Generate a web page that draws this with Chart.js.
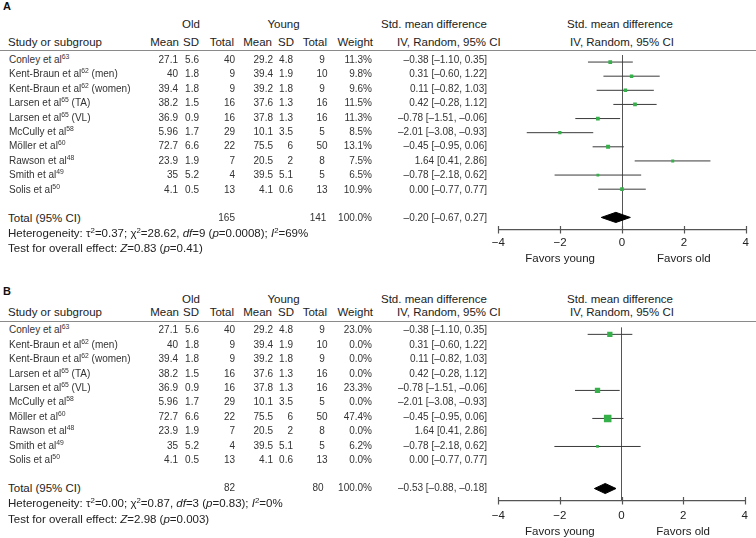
<!DOCTYPE html>
<html lang="en">
<head>
  <meta charset="UTF-8" />
  <title>Forest plot - Old vs Young</title>
  <script src="https://cdn.jsdelivr.net/npm/chart.js"></script>
  <style>
    html, body { margin: 0; padding: 0; background: #fff; }
    body { width: 756px; height: 538px; position: relative; overflow: hidden;
           font-family: 'Liberation Sans', Arial, sans-serif; color: #222; }
    .panel { position: absolute; left: 0; width: 756px; height: 268px; }
    .t { position: absolute; white-space: nowrap; line-height: 14px; height: 14px; }
    .h { font-size: 11.5px; }
    .d { font-size: 10px; color: #333; }
    .b { font-weight: bold; font-size: 11px; color: #111; }
    sup { font-size: 0.68em; line-height: 0; vertical-align: 0.55em; }
    .rule { position: absolute; left: 0; width: 756px; height: 0; border-top: 1.5px solid #8a8a8a; }
    canvas { position: absolute; left: 480px; top: 51px; }
  </style>
</head>
<body>

  <div class="panel" id="panelA" style="top:0px"><canvas id="chartA" width="276" height="218"></canvas></div>
  <div class="panel" id="panelB" style="top:270.5px"><canvas id="chartB" width="276" height="218"></canvas></div>

  <script>
    // studies (same in both panels)
    const studyNames = ['Conley et al', 'Kent-Braun et al', 'Kent-Braun et al', 'Larsen et al', 'Larsen et al',
                        'McCully et al', 'Möller et al', 'Rawson et al', 'Smith et al', 'Solis et al'];
    const studyRefs = ['63', '62', '62', '65', '65', '58', '60', '48', '49', '50'];
    const studyTags = ['', ' (men)', ' (women)', ' (TA)', ' (VL)', '', '', '', '', ''];

    const oldMean = ['27.1', '40', '39.4', '38.2', '36.9', '5.96', '72.7', '23.9', '35', '4.1'];
    const oldSD = ['5.6', '1.8', '1.8', '1.5', '0.9', '1.7', '6.6', '1.9', '5.2', '0.5'];
    const oldTotal = [40, 9, 9, 16, 16, 29, 22, 7, 4, 13];
    const youngMean = ['29.2', '39.4', '39.2', '37.6', '37.8', '10.1', '75.5', '20.5', '39.5', '4.1'];
    const youngSD = ['4.8', '1.9', '1.8', '1.3', '1.3', '3.5', '6', '2', '5.1', '0.6'];
    const youngTotal = [9, 10, 9, 16, 16, 5, 50, 8, 5, 13];

    // std. mean difference and 95% CI
    const smd = [-0.38, 0.31, 0.11, 0.42, -0.78, -2.01, -0.45, 1.64, -0.78, 0.00];
    const ciLow = [-1.10, -0.60, -0.82, -0.28, -1.51, -3.08, -0.95, 0.41, -2.18, -0.77];
    const ciHigh = [0.35, 1.22, 1.03, 1.12, -0.06, -0.93, 0.06, 2.86, 0.62, 0.77];

    // weights (%) per panel
    const weightA = [11.3, 9.8, 9.6, 11.5, 11.3, 8.5, 13.1, 7.5, 6.5, 10.9];
    const weightB = [23.0, 0, 0, 0, 23.3, 0, 47.4, 0, 6.2, 0];

    // pooled result [estimate, low, high] and totals [old, young]
    const pooledA = [-0.20, -0.67, 0.27];
    const pooledB = [-0.53, -0.88, -0.18];
    const totalsA = [165, 141];
    const totalsB = [82, 80];

    // heterogeneity [tau2, chi2, df, p, I2] and overall effect [Z, p]
    const hetA = ['0.37', '28.62', '9', '0.0008', '69'];
    const hetB = ['0.00', '0.87', '3', '0.83', '0'];
    const testA = ['0.83', '0.41'];
    const testB = ['2.98', '0.003'];

    const xTicks = [-4, -2, 0, 2, 4];

    const FONT = "'Liberation Sans', Arial, sans-serif";
    const ROW_H = 14.45;
    const TOP = 51;   // header rule / top of plot area
    const minus = v => (v < 0 ? '\u2013' : '') + Math.abs(v).toFixed(2);
    const ciText = (e, l, h) => minus(e) + ' [' + minus(l) + ', ' + minus(h) + ']';

    function put(panel, html, x, y, cls, align) {
      const el = document.createElement('div');
      el.className = 't ' + cls;
      el.innerHTML = html;
      el.style.top = (y - 7) + 'px';
      if (align === 'r') el.style.right = (756 - x) + 'px';
      else if (align === 'c') { el.style.left = (x - 60) + 'px'; el.style.width = '120px'; el.style.textAlign = 'center'; }
      else el.style.left = x + 'px';
      panel.appendChild(el);
    }

    function rowPix(i) { return TOP + (i + 0.5) * ROW_H; }

    // tick marks that cross the axis line
    const tickMarks = {
      id: 'tickMarks',
      afterDraw(chart) {
        const s = chart.scales.x, ctx = chart.ctx, y = chart.chartArea.bottom;
        ctx.save();
        ctx.strokeStyle = '#555';
        ctx.lineWidth = 1.2;
        s.ticks.forEach(t => {
          const x = Math.round(s.getPixelForValue(t.value)) + 0.5;
          ctx.beginPath(); ctx.moveTo(x, y - 4); ctx.lineTo(x, y + 3.5); ctx.stroke();
        });
        ctx.restore();
      }
    };

    function buildPanel(id, letter, letterY, headY, weights, pooled, totals, het, test, labelGap, favorsGap) {
      const p = document.getElementById('panel' + id);

      // headers
      put(p, letter, 3, letterY, 'b');
      put(p, 'Old', 191, headY, 'h', 'c');
      put(p, 'Young', 283.5, headY, 'h', 'c');
      put(p, 'Std. mean difference', 381, headY, 'h');
      put(p, 'Std. mean difference', 620, headY, 'h', 'c');
      put(p, 'Study or subgroup', 8, 41.5, 'h');
      put(p, 'Mean', 179, 41.5, 'h', 'r');
      put(p, 'SD', 199, 41.5, 'h', 'r');
      put(p, 'Total', 234, 41.5, 'h', 'r');
      put(p, 'Mean', 272, 41.5, 'h', 'r');
      put(p, 'SD', 294, 41.5, 'h', 'r');
      put(p, 'Total', 327, 41.5, 'h', 'r');
      put(p, 'Weight', 373, 41.5, 'h', 'r');
      put(p, 'IV, Random, 95% CI', 397, 41.5, 'h');
      put(p, 'IV, Random, 95% CI', 622, 41.5, 'h', 'c');
      const rule = document.createElement('div');
      rule.className = 'rule';
      rule.style.top = (TOP - 1) + 'px';
      p.appendChild(rule);

      // study rows
      studyNames.forEach((name, i) => {
        const y = rowPix(i) + 1.5;
        put(p, name + '<sup>' + studyRefs[i] + '</sup>' + studyTags[i], 9, y, 'd');
        put(p, oldMean[i], 178, y, 'd', 'r');
        put(p, oldSD[i], 199, y, 'd', 'r');
        put(p, oldTotal[i], 235, y, 'd', 'r');
        put(p, youngMean[i], 273, y, 'd', 'r');
        put(p, youngSD[i], 293, y, 'd', 'r');
        put(p, youngTotal[i], 322, y, 'd', 'c');
        put(p, weights[i].toFixed(1) + '%', 372, y, 'd', 'r');
        put(p, ciText(smd[i], ciLow[i], ciHigh[i]), 487, y, 'd', 'r');
      });

      // total + stats rows
      const totalRow = studyNames.length + 1;
      const ty = rowPix(totalRow) + 0.5;
      put(p, 'Total (95% CI)', 8, ty, 'h');
      put(p, totals[0], 235, ty, 'd', 'r');
      put(p, totals[1], 318, ty, 'd', 'c');
      put(p, '100.0%', 372, ty, 'd', 'r');
      put(p, ciText(pooled[0], pooled[1], pooled[2]), 487, ty, 'd', 'r');
      put(p, 'Heterogeneity: \u03c4<sup>2</sup>=' + het[0] + '; \u03c7<sup>2</sup>=' + het[1] +
             ', <i>df</i>=' + het[2] + ' (<i>p</i>=' + het[3] + '); <i>I</i><sup>2</sup>=' + het[4] + '%',
          8, ty + 15, 'h');
      put(p, 'Test for overall effect: <i>Z</i>=' + test[0] + ' (<i>p</i>=' + test[1] + ')', 8, ty + 30.5, 'h');

      // marks
      const shown = weights.map(w => w > 0);
      const whiskers = [];
      const points = [];
      const radii = [];
      smd.forEach((v, i) => {
        if (!shown[i]) return;
        whiskers.push({ x: ciLow[i], y: i }, { x: ciHigh[i], y: i }, { x: null, y: null });
        points.push({ x: v, y: i });
        radii.push(1.1 * Math.sqrt(weights[i]) / Math.SQRT2);
      });
      const dh = 0.36;
      const diamond = [
        { x: pooled[1], y: totalRow }, { x: pooled[0], y: totalRow - dh },
        { x: pooled[2], y: totalRow }, { x: pooled[0], y: totalRow + dh },
        { x: pooled[1], y: totalRow }
      ];

      const chart = new Chart(document.getElementById('chart' + id), {
        type: 'scatter',
        data: {
          datasets: [
            { type: 'line', data: whiskers, borderColor: '#3a3a3a', borderWidth: 1, pointRadius: 0,
              spanGaps: false, fill: false, order: 3 },
            { data: points, pointStyle: 'rect', pointRadius: radii, backgroundColor: '#35b04a',
              borderWidth: 0, pointBorderWidth: 0, order: 1 },
            { type: 'line', data: diamond, borderColor: '#000', borderWidth: 1, backgroundColor: '#000',
              fill: 'shape', pointRadius: 0, tension: 0, order: 2 }
          ]
        },
        options: {
          responsive: false,
          animation: false,
          events: [],
          layout: { padding: { left: 18.3, right: 10.3, top: 0, bottom: 0 } },
          plugins: { legend: { display: false }, tooltip: { enabled: false } },
          scales: {
            x: {
              type: 'linear', min: -4, max: 4,
              afterBuildTicks: s => { s.ticks = xTicks.map(v => ({ value: v })); },
              afterFit: s => { s.height = 39; },
              ticks: {
                callback: v => (v < 0 ? '\u2212' + Math.abs(v) : '' + v),
                font: { family: FONT, size: 11.5 }, color: '#222', padding: labelGap,
                maxRotation: 0, autoSkip: false
              },
              grid: {
                drawTicks: false, lineWidth: 1,
                color: c => (c.tick && c.tick.value === 0 ? '#555' : 'rgba(0,0,0,0)')
              },
              border: { color: '#555', width: 1.3 }
            },
            y: { type: 'linear', display: false, reverse: true, min: -0.5, max: 11.89 }
          }
        },
        plugins: [tickMarks]
      });

      const s = chart.scales.x;
      const axisY = TOP + chart.chartArea.bottom;
      put(p, 'Favors young', 480 + s.getPixelForValue(-2), axisY + favorsGap, 'h', 'c');
      put(p, 'Favors old', 480 + s.getPixelForValue(2), axisY + favorsGap, 'h', 'c');
    }

    buildPanel('A', 'A', 5.5, 23.5, weightA, pooledA, totalsA, hetA, testA, 6, 27.5);
    buildPanel('B', 'B', 20, 28, weightB, pooledB, totalsB, hetB, testB, 8, 30);
  </script>

</body>
</html>
